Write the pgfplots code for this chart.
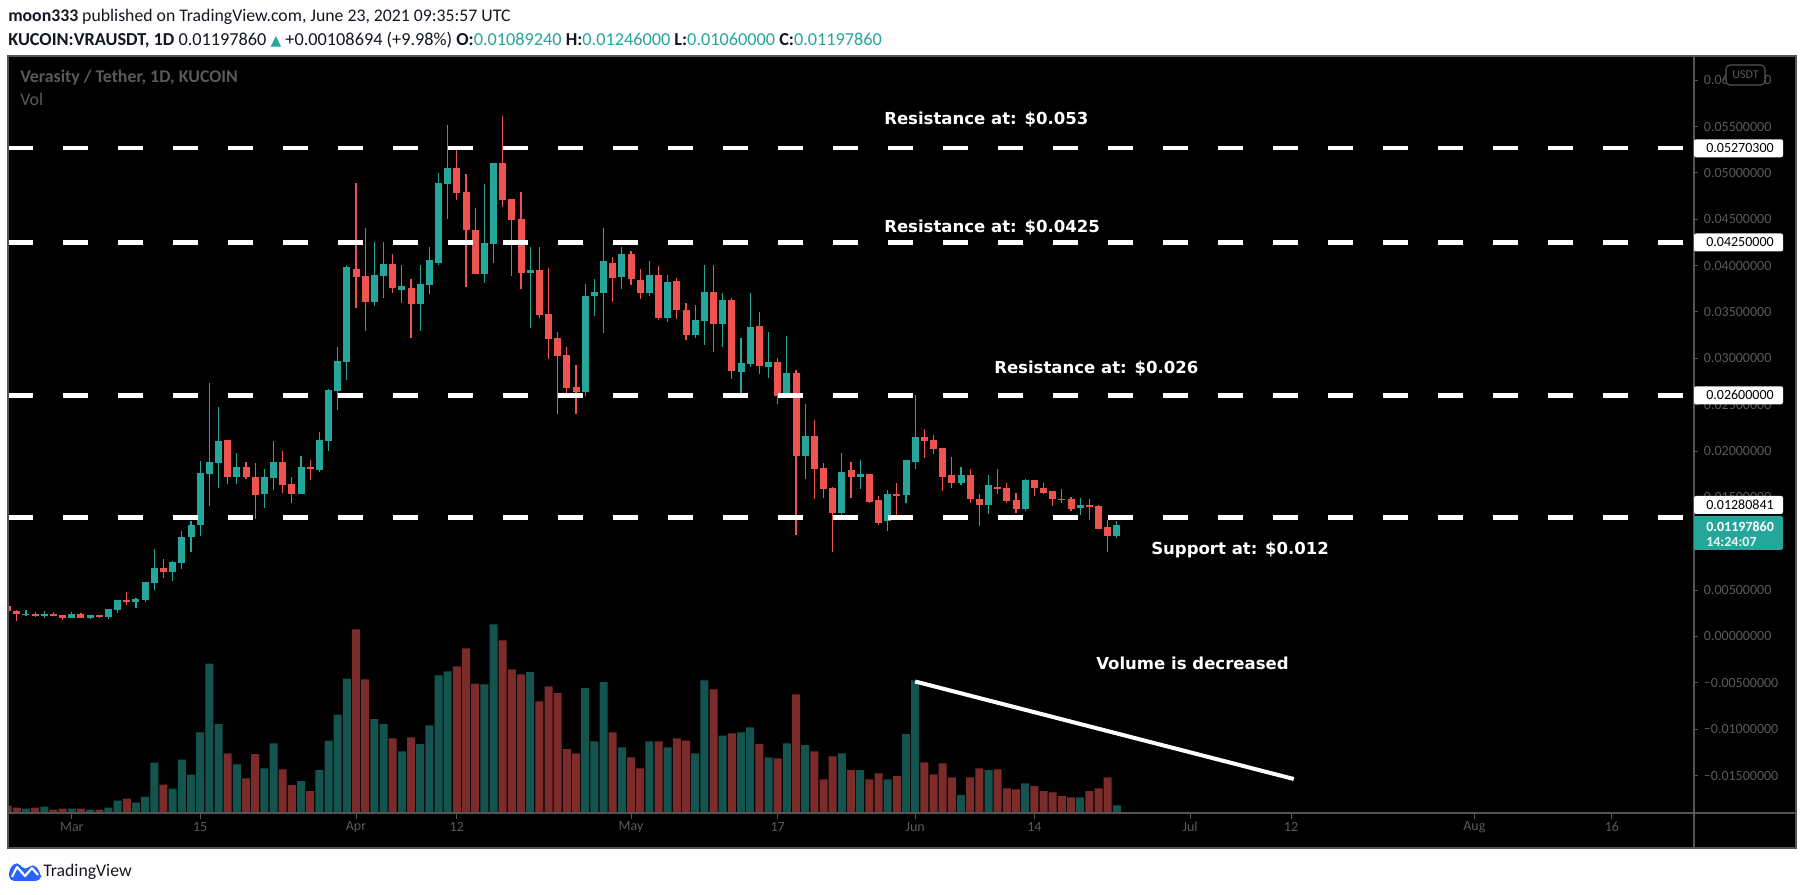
\documentclass[border=0pt]{standalone}
\usepackage{pgfplots}
\pgfplotsset{compat=1.18}
\usepackage{pgfplotstable}
\usepackage{fontspec}
\setmainfont{Carlito}
\newfontfamily\dejavu{DejaVu Sans}
\definecolor{tvgreen}{HTML}{26A69A}
\definecolor{tvred}{HTML}{EF5350}
\definecolor{volgreen}{HTML}{14544F}
\definecolor{volred}{HTML}{7A2B2A}
\definecolor{lblgray}{HTML}{5A5A5A}
\definecolor{axgray}{HTML}{555555}
\definecolor{hdr}{HTML}{131722}
\definecolor{tvblue}{HTML}{2962FF}

\pgfplotstableread{
d o h l c
-5 .00234 .00289 .00223 .00245
-3 .00223 .00278 .00202 .00245
0 .00202 .00266 .00202 .00245
2 .00202 .00234 .00191 .00234
4 .00212 .00299 .00191 .00299
5 .00289 .00396 .00256 .00396
7 .00375 .00418 .00310 .00407
8 .00396 .00591 .00375 .00591
9 .00580 .00947 .00504 .00742
11 .00699 .00818 .00602 .00807
12 .00796 .01141 .00731 .01077
13 .01070 .01249 .00915 .01207
14 .01197 .01897 .01079 .01759
15 .01749 .02730 .01404 .01877
16 .01868 .02474 .01596 .02104
18 .01725 .01976 .01641 .01823
21 .01532 .01803 .01389 .01715
22 .01705 .02104 .01577 .01877
25 .01542 .01951 .01532 .01823
27 .01794 .02203 .01779 .02114
28 .02104 .02670 .01996 .02657
29 .02652 .03120 .02440 .02972
30 .02957 .04008 .02770 .03988
33 .03608 .04259 .03564 .03899
34 .03889 .04259 .03653 .04017
36 .03741 .04008 .03598 .03781
38 .03588 .04008 .03293 .03800
39 .03791 .04205 .03697 .04062
40 .04032 .05004 .04008 .04895
41 .04885 .05512 .04506 .05058
45 .03909 .04885 .03815 .04244
46 .04234 .05112 .04032 .05102
50 .03924 .04205 .03327 .03953
56 .02637 .03800 .02593 .03672
57 .03672 .03855 .03455 .03717
58 .03707 .04407 .03273 .04052
60 .03879 .04205 .03751 .04126
63 .03707 .04052 .03672 .03899
65 .03436 .03899 .03391 .03825
68 .03253 .03574 .03219 .03416
69 .03401 .04008 .03145 .03717
71 .03371 .03707 .03120 .03628
73 .02854 .03219 .02612 .02947
74 .02938 .03707 .02908 .03337
76 .02903 .03283 .02785 .02957
78 .02592 .03238 .02592 .02839
80 .01942 .02504 .01695 .02159
84 .01335 .01976 .01301 .01779
86 .01715 .01902 .01587 .01749
89 .01246 .01577 .01133 .01542
91 .01522 .01902 .01444 .01902
92 .01887 .02602 .01803 .02149
97 .01660 .01823 .01631 .01739
100 .01419 .01739 .01325 .01631
104 .01379 .01695 .01355 .01685
110 .01389 .01498 .01315 .01419
114 .01089 .01246 .01060 .01198
}\upcandles

\pgfplotstableread{
d o h l c
-7 .00332 .00350 .00234 .00270
-6 .00278 .00289 .00170 .00238
-4 .00245 .00266 .00212 .00223
-2 .00245 .00266 .00223 .00223
-1 .00234 .00234 .00180 .00202
1 .00245 .00256 .00202 .00202
3 .00234 .00234 .00202 .00212
6 .00396 .00483 .00343 .00375
10 .00742 .00839 .00634 .00699
17 .02114 .02114 .01641 .01725
19 .01823 .01887 .01695 .01715
20 .01725 .01868 .01271 .01522
23 .01877 .01996 .01552 .01631
24 .01641 .01715 .01444 .01532
26 .01823 .01902 .01685 .01803
31 .03963 .04895 .03544 .03879
32 .03889 .04410 .03293 .03608
35 .04017 .04126 .03702 .03756
37 .03761 .03855 .03214 .03588
42 .05058 .05250 .04708 .04787
43 .04797 .04984 .03766 .04387
44 .04387 .04624 .03909 .03909
47 .05102 .05610 .04634 .04713
48 .04723 .04723 .03889 .04496
49 .04506 .04797 .03751 .03924
51 .03953 .04205 .03436 .03470
52 .03480 .03978 .02992 .03209
53 .03219 .03283 .02395 .03026
54 .03036 .03120 .02612 .02676
55 .02691 .02928 .02395 .02637
59 .04032 .04096 .03608 .03870
61 .04126 .04161 .03791 .03855
62 .03845 .03963 .03643 .03707
64 .03899 .03998 .03411 .03436
66 .03835 .03870 .03426 .03519
67 .03519 .03598 .03199 .03253
70 .03717 .04008 .03066 .03371
72 .03628 .03653 .02775 .02864
75 .03347 .03500 .02829 .02918
77 .02957 .03002 .02504 .02592
79 .02839 .02874 .01098 .01942
81 .02159 .02331 .01488 .01803
82 .01813 .01868 .01498 .01587
83 .01596 .01616 .00916 .01335
85 .01794 .01887 .01498 .01715
87 .01749 .01749 .01444 .01453
88 .01468 .01512 .01197 .01227
90 .01542 .01651 .01301 .01517
93 .02149 .02237 .01922 .02104
94 .02114 .02168 .01966 .02020
95 .02030 .02030 .01567 .01725
96 .01739 .01932 .01596 .01651
98 .01739 .01803 .01444 .01478
99 .01478 .01542 .01192 .01419
101 .01616 .01803 .01542 .01587
102 .01596 .01660 .01444 .01463
103 .01468 .01552 .01335 .01379
105 .01685 .01685 .01517 .01596
106 .01606 .01651 .01532 .01552
107 .01567 .01567 .01409 .01478
108 .01488 .01587 .01444 .01473
109 .01488 .01508 .01355 .01379
111 .01419 .01488 .01256 .01399
112 .01409 .01419 .01158 .01158
113 .01177 .01256 .00916 .01079
}\downcandles

\pgfplotstableread{
d v
-5 4.3
-3 6.3
0 4.3
2 3.3
4 5.3
5 12.3
7 10.3
8 16.3
9 50.3
11 24.3
12 53.3
13 38.3
14 80.6
15 149.4
16 88.8
18 48.7
21 44.6
22 69.7
25 31.9
27 42.8
28 72.4
29 98.4
30 134.4
33 93.8
34 88.8
36 61.5
38 68.8
39 87.5
40 137.6
41 141.7
45 128.5
46 188.6
50 140.8
56 124.8
57 71.5
58 130.8
60 65.6
63 71.5
65 65.6
68 59.7
69 132.6
71 77.4
73 80.6
74 85.6
76 55.6
78 69.7
80 67.9
84 59.7
86 42.8
89 33.7
91 78.8
92 132.6
97 17.8
100 42.8
104 29.6
110 15.5
114 7.7
}\upvol

\pgfplotstableread{
d v
-7 7.3
-6 5.3
-4 5.3
-2 3.3
-1 4.3
1 4.3
3 3.3
6 14.3
10 28.3
17 59.7
19 34.6
20 58.8
23 43.7
24 27.8
26 21.9
31 183.6
32 133.5
35 74.7
37 75.6
42 146.7
43 164.5
44 129.4
47 172.7
48 143.5
49 138.5
51 111.6
52 126.7
53 119.8
54 63.8
55 59.7
59 80.6
61 55.6
62 44.6
64 71.5
66 74.7
67 72.4
70 123.5
72 79.7
75 68.8
77 54.7
79 118.5
81 61.5
82 33.7
83 56.5
85 42.8
87 33.7
88 39.6
90 36.9
93 50.6
94 38.7
95 49.7
96 35.5
98 35.5
99 44.6
101 43.7
102 24.6
103 23.7
105 26.9
106 21.9
107 20.5
108 16.9
109 15.5
111 21.9
112 24.6
113 35.5
}\downvol

\begin{document}
\begin{tikzpicture}[x=0.75pt,y=0.75pt]
\fill[white] (0,0) rectangle (1805,895);
\useasboundingbox (0,0) rectangle (1805,895);
% panel
\fill[black] (8,47) rectangle (1796,839);

% volume axis
\begin{axis}[
  at={(8,82)}, anchor=south west, scale only axis,
  width=1264.5pt, height=567.75pt,
  xmin=-7.036, xmax=176.89, ymin=0, ymax=757,
  hide axis, ybar, bar width=6pt, bar shift=0pt,
]
\addplot[fill=volgreen, draw=none] table[x=d, y=v] {\upvol};
\addplot[fill=volred, draw=none] table[x=d, y=v] {\downvol};
\end{axis}

% price axis
\begin{axis}[
  at={(8,82)}, anchor=south west, scale only axis, yshift=3.9pt,
  width=1264.5pt, height=567.75pt,
  xmin=-7.036, xmax=176.89, ymin=-0.019125, ymax=0.062528,
  scaled y ticks=false, scaled x ticks=false,
  axis line style={draw=none},
  xtick={0,14,31,42,61,77,92,105,122,133,153,168},
  xticklabels={Mar,15,Apr,12,May,17,Jun,14,Jul,12,Aug,16},
  ytick={-0.015,-0.01,-0.005,0,0.005,0.01,0.015,0.02,0.025,0.03,0.035,0.04,0.045,0.05,0.055,0.06},
  yticklabels={−0.01500000,−0.01000000,−0.00500000,0.00000000,0.00500000,{},0.01500000,0.02000000,0.02500000,0.03000000,0.03500000,0.04000000,0.04500000,0.05000000,0.05500000,0.06000000},
  xtick pos=lower, ytick pos=upper, yticklabel pos=upper,
  tick align=outside, major tick length=3.75pt,
  tick style={draw=axgray, line width=0.75pt},
  ticklabel style={text=lblgray, font=\fontsize{10.5}{12}\selectfont},
  yticklabel style={anchor=west, inner sep=0pt, xshift=4pt},
  xticklabel style={anchor=center, inner sep=0pt, yshift=-6pt},
  clip=true,
]
% wicks
\addplot[draw=none, mark=none, forget plot,
  error bars/.cd, y dir=both, y explicit, error mark=none,
  error bar style={draw=tvgreen, line width=0.85pt}]
  table[x=d, y expr={(\thisrow{h}+\thisrow{l})/2}, y error expr={(\thisrow{h}-\thisrow{l})/2}] {\upcandles};
\addplot[draw=none, mark=none, forget plot,
  error bars/.cd, y dir=both, y explicit, error mark=none,
  error bar style={draw=tvred, line width=0.85pt}]
  table[x=d, y expr={(\thisrow{h}+\thisrow{l})/2}, y error expr={(\thisrow{h}-\thisrow{l})/2}] {\downcandles};
% bodies
\addplot[draw=none, mark=none, forget plot,
  error bars/.cd, y dir=both, y explicit, error mark=none,
  error bar style={draw=tvgreen, line width=5.25pt}]
  table[x=d, y expr={(\thisrow{o}+\thisrow{c})/2}, y error expr={max(abs(\thisrow{c}-\thisrow{o})/2,0.00005)}] {\upcandles};
\addplot[draw=none, mark=none, forget plot,
  error bars/.cd, y dir=both, y explicit, error mark=none,
  error bar style={draw=tvred, line width=5.25pt}]
  table[x=d, y expr={(\thisrow{o}+\thisrow{c})/2}, y error expr={max(abs(\thisrow{c}-\thisrow{o})/2,0.00005)}] {\downcandles};
% support / resistance levels
\addplot[white, line width=3.5pt, dash pattern=on 18.75pt off 22.5pt] coordinates {(-6.927,0.0527) (176.89,0.0527)};
\addplot[white, line width=3.5pt, dash pattern=on 18.75pt off 22.5pt] coordinates {(-6.927,0.0425) (176.89,0.0425)};
\addplot[white, line width=3.5pt, dash pattern=on 18.75pt off 22.5pt] coordinates {(-6.927,0.026) (176.89,0.026)};
\addplot[white, line width=3.5pt, dash pattern=on 18.75pt off 22.5pt] coordinates {(-6.927,0.01280841) (176.89,0.01280841)};
\end{axis}

% volume trend line (volume units)
\begin{axis}[
  at={(8,82)}, anchor=south west, scale only axis,
  width=1264.5pt, height=567.75pt,
  xmin=-7.036, xmax=176.89, ymin=0, ymax=757, hide axis,
]
\addplot[white, line width=3pt] coordinates {(92,131.5) (133.3,34)};
\end{axis}

% panel frame and separators
\draw[axgray, line width=1.2pt] (8,47) rectangle (1796,839);
\draw[axgray, line width=1pt] (8,82) -- (1796,82);
\draw[axgray, line width=1pt] (1694,47) -- (1694,839);

% price labels
\newcommand{\plbl}[2]{%
  \fill[white, rounded corners=1.5pt] (1694,#1-9) rectangle (1783,#1+9);
  \node[anchor=west, inner sep=0pt, text=black, font=\fontsize{10.5}{12}\selectfont] at (1706,#1) {#2};}
\plbl{746.7}{0.05270300}
\plbl{652.5}{0.04250000}
\plbl{499.7}{0.02600000}
\plbl{390}{0.01280841}
\fill[tvgreen, rounded corners=1.5pt] (1694,345) rectangle (1783,379);
\node[anchor=west, inner sep=0pt, text=white, font=\fontsize{10.5}{12}\selectfont\bfseries] at (1706,368.5) {0.01197860};
\node[anchor=west, inner sep=0pt, text=white!90!tvgreen, font=\fontsize{10.5}{12}\selectfont\bfseries] at (1706,353) {14:24:07};
\filldraw[fill=black, draw=axgray, line width=0.8pt, rounded corners=3pt] (1726,810) rectangle (1765,830);
\node[inner sep=0pt, text=lblgray, font=\fontsize{9}{10}\selectfont] at (1745.5,820) {USDT};

% annotations
\begin{scope}[every node/.style={anchor=west, inner sep=0pt, text=white, font=\dejavu\bfseries\fontsize{12.4}{14}\selectfont}]
\node at (884,776) {Resistance at: \$0.053};
\node at (884,667.4) {Resistance at: \$0.0425};
\node at (994,526.2) {Resistance at: \$0.026};
\node at (1151,345) {Support at: \$0.012};
\node at (1096,231.4) {Volume is decreased};
\end{scope}

% legend in panel
\node[anchor=west, inner sep=0pt, text=lblgray, font=\fontsize{13.4}{15}\selectfont\bfseries] at (20,817) {Verasity / Tether, 1D, KUCOIN};
\node[anchor=west, inner sep=0pt, text=lblgray, font=\fontsize{13.4}{15}\selectfont] at (20,795.7) {Vol};

% header
\node[anchor=west, inner sep=0pt, text=hdr, font=\fontsize{13.3}{16}\selectfont] at (8,878) {\textbf{moon333} published on TradingView.com, June 23, 2021 09:35:57 UTC};
\node[anchor=west, inner sep=0pt, text=hdr, font=\fontsize{13.7}{16}\selectfont] at (8,855) {\textbf{KUCOIN:VRAUSDT, 1D} 0.01197860 {\color{tvgreen}\dejavu\fontsize{10.5}{12}\selectfont ▲} +0.00108694 (+9.98\%) \textbf{O:}{\color{tvgreen}0.01089240} \textbf{H:}{\color{tvgreen}0.01246000} \textbf{L:}{\color{tvgreen}0.01060000} \textbf{C:}{\color{tvgreen}0.01197860}};

% footer logo
\fill[tvblue, rounded corners=4pt] (9,14) -- (9,26) -- (17,34) -- (25,24) -- (33,32) -- (41,22) -- (41,14) -- cycle;
\draw[white, line width=1.6pt, line join=round] (12,18) -- (17,28) -- (25,19) -- (32,27) -- (38,20);
\node[anchor=west, inner sep=0pt, text=hdr, font=\fontsize{13.3}{16}\selectfont] at (43,23.5) {TradingView};
\end{tikzpicture}
\end{document}
